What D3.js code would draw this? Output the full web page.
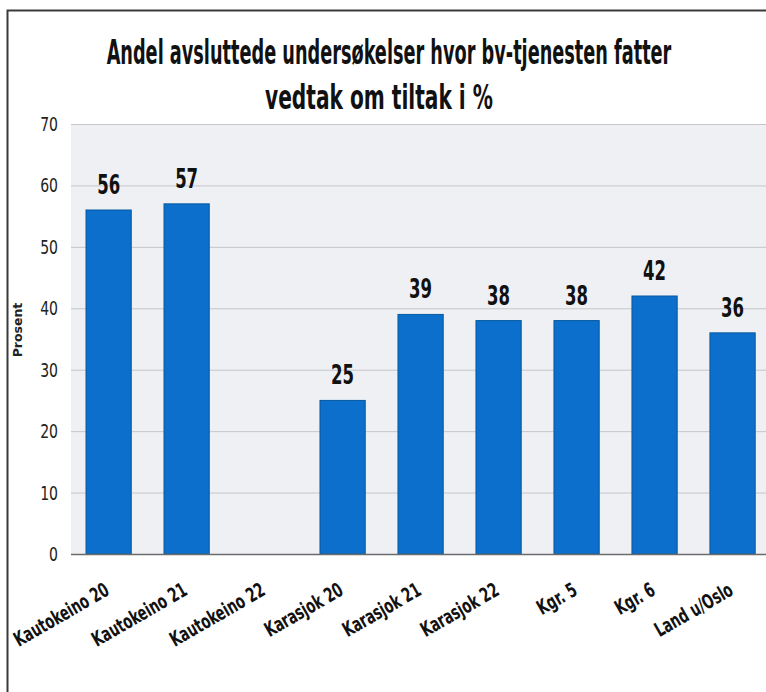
<!DOCTYPE html>
<html>
<head>
<meta charset="utf-8">
<script src="https://cdn.jsdelivr.net/npm/d3@7"></script>
<style>
  body { margin: 0; background: #fff; }
  svg { display: block; }
  .narrow { font-family: "Liberation Sans Narrow", "DejaVu Sans Condensed", "Roboto", sans-serif; }
</style>
</head>
<body>
<div id="chart"></div>
<script>
// Data
const categories = ['Kautokeino 20', 'Kautokeino 21', 'Kautokeino 22', 'Karasjok 20',
                    'Karasjok 21', 'Karasjok 22', 'Kgr. 5', 'Kgr. 6', 'Land u/Oslo'];
const values = [56, 57, null, 25, 39, 38, 38, 42, 36];
const yTicks = [0, 10, 20, 30, 40, 50, 60, 70];
const titleLines = ['Andel avsluttede undersøkelser hvor bv-tjenesten fatter', 'vedtak om tiltak i %'];

const W = 766, H = 692;
const plot = { left: 71, top: 124, bottom: 554 };

const svg = d3.select('#chart').append('svg')
    .attr('width', W).attr('height', H);

// squeeze a text horizontally so the font looks as condensed as the scan
function squeeze(sel, ratio) {
    sel.each(function () {
        const base = this.getAttribute('transform') || '';
        this.setAttribute('transform', base + ` scale(${ratio},1)`);
    });
}

// Outer frame (cut off at right and bottom)
svg.append('path')
    .attr('d', `M7.5,${H} V10.5 H${W}`)
    .attr('fill', 'none').attr('stroke', '#3a3a3a').attr('stroke-width', 2);

// Scales
const x = d3.scaleBand().domain(categories)
    .range([71.2, 770]).paddingInner(0.42).paddingOuter(0.19);
const y = d3.scaleLinear().domain([0, 70]).range([plot.bottom, plot.top]);

// Plot background
svg.append('rect')
    .attr('x', plot.left).attr('y', plot.top)
    .attr('width', W - plot.left).attr('height', plot.bottom - plot.top)
    .attr('fill', '#eef0f4');

// Gridlines
svg.append('g')
    .selectAll('line').data(yTicks.filter(d => d > 0)).join('line')
    .attr('x1', plot.left).attr('x2', W)
    .attr('y1', d => y(d) + 0.5).attr('y2', d => y(d) + 0.5)
    .attr('stroke', '#c4c6ca').attr('stroke-width', 1);

// Y tick labels
svg.append('g').attr('class', 'narrow')
    .selectAll('text').data(yTicks).join('text')
    .attr('transform', d => `translate(58,${y(d)})`)
    .attr('dy', '0.35em')
    .attr('text-anchor', 'end')
    .attr('font-size', 20)
    .attr('fill', '#222')
    .text(d => d)
    .call(squeeze, 0.78);

// Y axis title
svg.append('text')
    .attr('transform', 'translate(22,330) rotate(-90)')
    .attr('text-anchor', 'middle')
    .attr('font-family', '"DejaVu Sans", sans-serif')
    .attr('font-weight', 'bold')
    .attr('font-size', 12.5)
    .attr('fill', '#222')
    .text('Prosent');

// Bars
const barData = categories.map((c, i) => ({ c, v: values[i] })).filter(d => d.v != null);
svg.append('g')
    .selectAll('rect').data(barData).join('rect')
    .attr('x', d => x(d.c)).attr('width', x.bandwidth())
    .attr('y', d => y(d.v)).attr('height', d => y(0) - y(d.v))
    .attr('fill', '#0b6fcb').attr('stroke', '#07599f').attr('stroke-width', 1);

// Baseline
svg.append('line')
    .attr('x1', plot.left).attr('x2', W)
    .attr('y1', y(0) + 0.5).attr('y2', y(0) + 0.5)
    .attr('stroke', '#6b6b6b').attr('stroke-width', 1.5);

// Value labels
svg.append('g').attr('class', 'narrow')
    .selectAll('text').data(barData).join('text')
    .attr('transform', d => `translate(${x(d.c) + x.bandwidth() / 2},${y(d.v) - 16})`)
    .attr('text-anchor', 'middle')
    .attr('font-size', 27).attr('font-weight', 'bold')
    .attr('fill', '#111')
    .text(d => d.v)
    .call(squeeze, 0.68);

// Category labels, rotated; first label in the scan is about 105px long
const catLabels = svg.append('g').attr('class', 'narrow')
    .selectAll('text').data(categories).join('text')
    .attr('transform', d => `translate(${x(d) + x.bandwidth() / 2 + 2},${plot.bottom + 40}) rotate(-30)`)
    .attr('text-anchor', 'end')
    .attr('font-size', 20).attr('font-weight', 'bold')
    .attr('fill', '#111')
    .text(d => d);
const catRatio = 106 / catLabels.node().getComputedTextLength();
catLabels.call(squeeze, catRatio);

// Title, squeezed to the widths seen in the scan
const titleSpec = [{ cx: 389, y: 64, w: 565 }, { cx: 379, y: 109, w: 228 }];
svg.append('g').attr('class', 'narrow')
    .attr('font-weight', 'bold').attr('fill', '#111')
    .selectAll('text').data(titleLines).join('text')
    .attr('text-anchor', 'middle').attr('font-size', 34)
    .text(d => d)
    .each(function (d, i) {
        const s = titleSpec[i];
        const ratio = s.w / this.getComputedTextLength();
        this.setAttribute('transform', `translate(${s.cx},${s.y}) scale(${ratio},1)`);
    });
</script>
</body>
</html>
